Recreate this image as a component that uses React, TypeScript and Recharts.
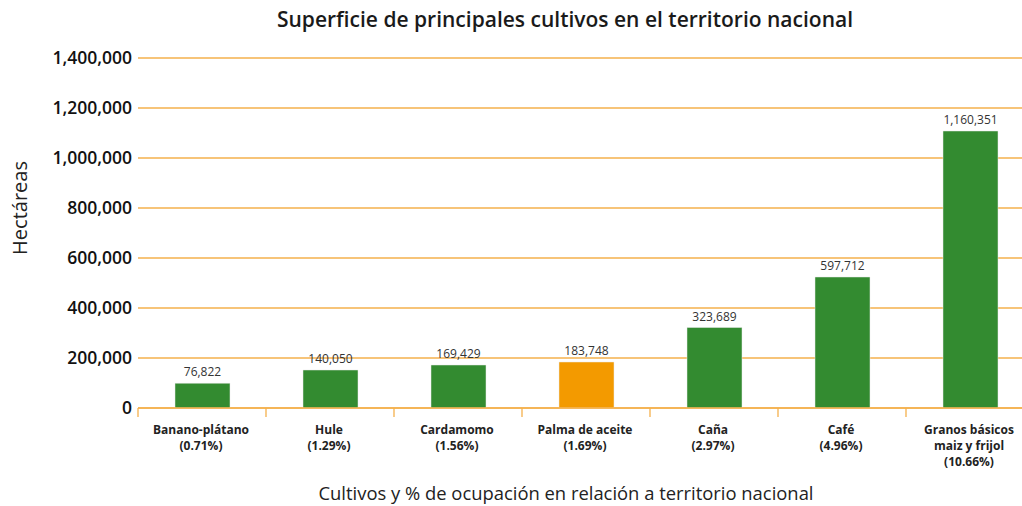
import React from 'react';
import { BarChart, Bar, XAxis, YAxis, CartesianGrid, Cell, LabelList } from 'recharts';

// bar lengths as drawn in the picture, and the numbers printed above them
const crops = ['Banano-plátano', 'Hule', 'Cardamomo', 'Palma de aceite', 'Caña', 'Café', 'Granos básicos\nmaiz y frijol'];
const shares = ['(0.71%)', '(1.29%)', '(1.56%)', '(1.69%)', '(2.97%)', '(4.96%)', '(10.66%)'];
const barValues = [99000, 152000, 172000, 184000, 322000, 524000, 1108000];
const printedValues = ['76,822', '140,050', '169,429', '183,748', '323,689', '597,712', '1,160,351'];
const yTicks = [0, 200000, 400000, 600000, 800000, 1000000, 1200000, 1400000];
const highlighted = 'Palma de aceite';

const GREEN = '#338b30';
const ORANGE = '#f39a00';
const GRID = '#f5b04c';
const FONT = '"Open Sans", sans-serif';

const CHART_W = 1040;
const CHART_H = 506;
const MARGIN = { top: 58, right: 6, left: 0, bottom: 0 };
const Y_AXIS_W = 138;
const X_AXIS_H = 98;
const BAND = (CHART_W - Y_AXIS_W - MARGIN.right) / crops.length;

const data = crops.map((name, i) => ({
  name,
  area: barValues[i],
  printed: printedValues[i],
}));

const CropTick = (props: any) => {
  const { x, y, payload, index } = props;
  const lines = [...String(payload.value).split('\n'), shares[index]];
  const left = x - BAND / 2;
  return (
    <g>
      <line x1={left} x2={left} y1={y} y2={y + 9} stroke={GRID} strokeWidth={1.3} />
      <text x={x - 1} y={y + 26} textAnchor="middle" fontFamily={FONT} fontSize={12} fontWeight={700} fill="#222">
        {lines.map((l, i) => (
          <tspan key={i} x={x - 1} dy={i === 0 ? 0 : 16}>
            {l}
          </tspan>
        ))}
      </text>
    </g>
  );
};

const ValueLabel = (props: any) => {
  const { x, y, width, index } = props;
  return (
    <text x={x + width / 2} y={y - 7} textAnchor="middle" fontFamily={FONT} fontSize={12} fill="#333">
      {printedValues[index]}
    </text>
  );
};

export default function App() {
  return (
    <div
      style={{
        position: 'absolute',
        left: 0,
        top: 0,
        width: 1022,
        height: 506,
        overflow: 'hidden',
        background: '#fff',
        fontFamily: FONT,
      }}
    >
      <div
        style={{
          position: 'absolute',
          left: 565,
          top: 6,
          transform: 'translateX(-50%)',
          whiteSpace: 'nowrap',
          fontSize: 21,
          lineHeight: '26px',
          fontWeight: 600,
          color: '#1a1a1a',
        }}
      >
        Superficie de principales cultivos en el territorio nacional
      </div>
      <BarChart width={CHART_W} height={CHART_H} data={data} margin={MARGIN} barSize={55}>
        <CartesianGrid vertical={false} stroke={GRID} strokeWidth={1.3} />
        <XAxis
          dataKey="name"
          height={X_AXIS_H}
          interval={0}
          tickSize={0}
          tickMargin={0}
          tick={<CropTick />}
          axisLine={{ stroke: GRID, strokeWidth: 1.3 }}
          label={{
            content: () => (
              <text x={566} y={500} textAnchor="middle" fontFamily={FONT} fontSize={18.4} fill="#222">
                Cultivos y % de ocupación en relación a territorio nacional
              </text>
            ),
          }}
        />
        <YAxis
          width={Y_AXIS_W}
          domain={[0, 1400000]}
          ticks={yTicks}
          interval={0}
          axisLine={false}
          tickLine={false}
          tickMargin={0}
          tickFormatter={(v: number) => v.toLocaleString('en-US')}
          tick={{ fontFamily: FONT, fontSize: 17.5, fontWeight: 600, fill: '#111' }}
          label={{
            content: () => (
              <text
                x={19}
                y={208}
                transform="rotate(-90 19 208)"
                textAnchor="middle"
                dominantBaseline="central"
                fontFamily={FONT}
                fontSize={20}
                fill="#222"
              >
                Hectáreas
              </text>
            ),
          }}
        />
        <Bar dataKey="area" isAnimationActive={false} stroke="#e8e8e8" strokeWidth={0.5}>
          {data.map((d) => (
            <Cell key={d.name} fill={d.name === highlighted ? ORANGE : GREEN} />
          ))}
          <LabelList dataKey="printed" content={<ValueLabel />} />
        </Bar>
      </BarChart>
    </div>
  );
}
